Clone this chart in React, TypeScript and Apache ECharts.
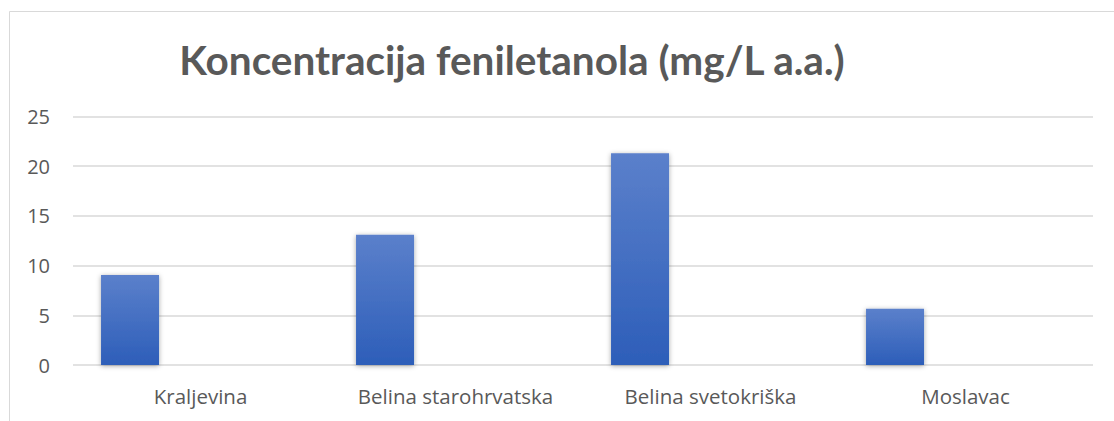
import React, { useEffect, useRef } from "react";
import * as echarts from "echarts";

const categories = ["Kraljevina", "Belina starohrvatska", "Belina svetokriška", "Moslavac"];
const values = [9.05, 13.1, 21.3, 5.65];
const emptySeries = [null, null, null, null];
const yTicks = { min: 0, max: 25, interval: 5 };

export default function App() {
  const ref = useRef<HTMLDivElement>(null);
  useEffect(() => {
    const chart = echarts.init(ref.current!, null, { renderer: "svg" });
    chart.setOption({
      animation: false,
      backgroundColor: "#ffffff",
      title: {
        text: "Koncentracija feniletanola (mg/L a.a.)",
        left: 507,
        top: 34,
        textAlign: "center",
        textStyle: { fontFamily: "Lato", fontWeight: "bold", fontSize: 40.5, color: "#595959" },
      },
      graphic: [
        {
          type: "rect",
          shape: { x: 9.5, y: 11.5, width: 1200, height: 500 },
          style: { fill: "none", stroke: "#d9d9d9", lineWidth: 1 },
          silent: true,
        },
      ],
      grid: { left: 73, right: 21, top: 116.5, bottom: 56, containLabel: false },
      xAxis: {
        type: "category",
        data: categories,
        axisLine: { show: false },
        axisTick: { show: false },
        axisLabel: { color: "#595959", fontFamily: "Open Sans", fontSize: 20.5, margin: 20 },
      },
      yAxis: {
        type: "value",
        min: yTicks.min,
        max: yTicks.max,
        interval: yTicks.interval,
        axisLine: { show: false },
        axisTick: { show: false },
        axisLabel: { color: "#595959", fontFamily: "Open Sans", fontSize: 20, margin: 23 },
        splitLine: { lineStyle: { color: "#d9d9d9", width: 1.5 } },
      },
      series: [
        {
          type: "bar",
          data: values,
          barWidth: 58,
          barGap: "143%",
          itemStyle: {
            color: new echarts.graphic.LinearGradient(0, 0, 0, 1, [
              { offset: 0, color: "#5b80cb" },
              { offset: 1, color: "#2d5eb9" },
            ]),
            shadowBlur: 5,
            shadowColor: "rgba(0,0,0,0.35)",
            shadowOffsetY: 1,
          },
        },
        {
          type: "bar",
          data: emptySeries,
          barWidth: 58,
        },
      ],
    });
    return () => chart.dispose();
  }, []);
  return (
    <div
      ref={ref}
      style={{ position: "fixed", left: 0, top: 0, width: 1114, height: 421 }}
    />
  );
}
